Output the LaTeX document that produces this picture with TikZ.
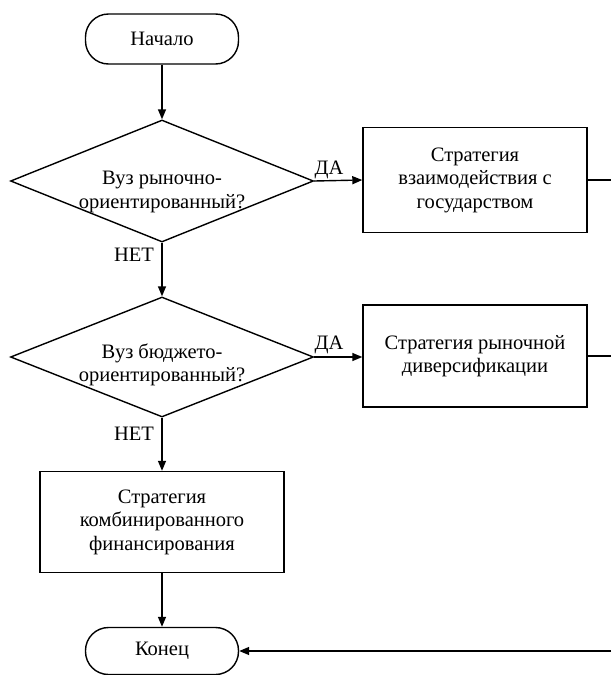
\documentclass[tikz,border=0pt]{standalone}
\usepackage{fontspec}
\setmainfont{Liberation Serif}
\usetikzlibrary{shapes.geometric,arrows.meta}
\begin{document}
\begin{tikzpicture}[x=1pt,y=-1pt,
  every node/.style={font=\fontsize{20.5}{23.5}\selectfont},
  base/.style={draw, line width=1.4pt, align=center, inner sep=0pt},
  term/.style={base, rectangle, rounded corners=23pt, minimum width=153pt, minimum height=50pt},
  proc/.style={base, rectangle, minimum width=224pt, minimum height=105pt},
  dec/.style={base, diamond, aspect=2.46, minimum width=303pt, minimum height=122pt},
  conn/.style={line width=1.4pt},
  arr/.style={conn, -{Triangle[length=10pt,width=8pt]}},
  lbl/.style={inner sep=0pt}]
\useasboundingbox (0,0) rectangle (611,675);
\node[term] (start) at (162,39) {Начало};
\node[dec] (d1) at (162,181) {};
\node[align=center] (d1t) at (162,192) {Вуз рыночно-\\ориентированный?};
\node[proc] (p1) at (475,180) {Стратегия\\взаимодействия с\\государством};
\node[dec, minimum height=120pt] (d2) at (162,357) {};
\node[align=center] (d2t) at (162,365) {Вуз бюджето-\\ориентированный?};
\node[proc, minimum height=102pt] (p2) at (475,356) {Стратегия рыночной\\диверсификации};
\node[proc, minimum width=244pt, minimum height=101pt] (p3) at (162,522) {Стратегия\\комбинированного\\финансирования};
\node[term, minimum height=47pt] (end) at (162,651) {Конец};
\coordinate (r1) at (611,180);
\coordinate (r2) at (611,356);
\coordinate (r3) at (611,651);
\draw[arr] (start) -- (d1);
\draw[arr] (d1) -- (d2);
\draw[arr] (d2) -- (p3);
\draw[arr] (p3) -- (end);
\draw[arr] (d1.east) -- (p1.west);
\draw[arr] (d2.east) -- (p2.west |- d2.east);
\draw[conn] (p1.east) -- (r1);
\draw[conn] (p2.east) -- (r2);
\draw[arr] (r3) -- (end.east);
\node[lbl] (da1) at (329,170) {ДА};
\node[lbl] (da2) at (329,345) {ДА};
\node[lbl] (net1) at (134,255) {НЕТ};
\node[lbl] (net2) at (134,434) {НЕТ};
\end{tikzpicture}
\end{document}
